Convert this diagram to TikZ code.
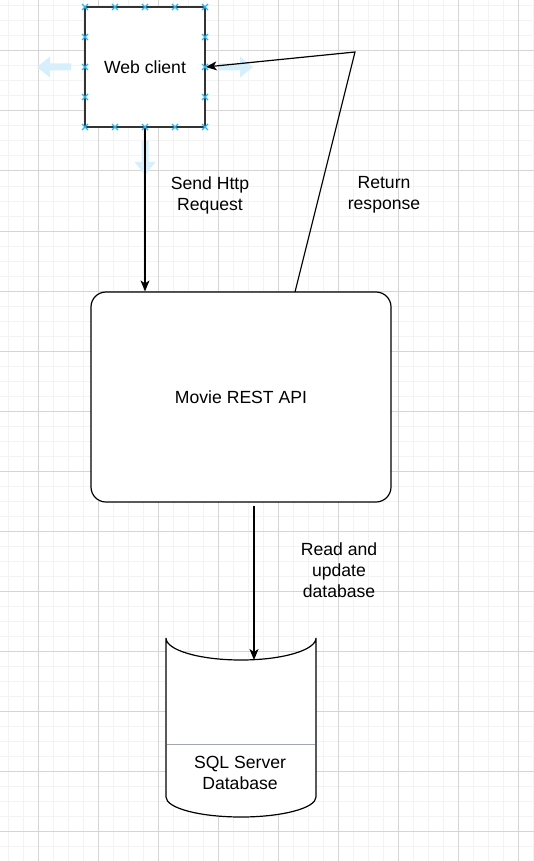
\documentclass[tikz,border=0pt]{standalone}
\usepackage{fontspec}
\setmainfont{Liberation Sans}
\usetikzlibrary{arrows.meta}

\newcommand{\kreuz}[2]{\draw[marke,line width=1.4pt] (#1-3,#2-3) -- (#1+3,#2+3) (#1-3,#2+3) -- (#1+3,#2-3);}

\begin{document}
\begin{tikzpicture}[x=1pt,y=-1pt,font=\fontsize{17.6}{21}\selectfont,
		box/.style={draw,line width=1.2pt,fill=white,align=center},
		pfeil/.style={-{Stealth[length=11pt,width=9pt,inset=3pt]},line width=1.2pt},
		beschr/.style={align=center,inner sep=0pt}]

		\definecolor{gitterfein}{HTML}{F3F3F3}
		\definecolor{gitter}{HTML}{D5D5D5}
		\definecolor{marke}{HTML}{29B6F2}
		\definecolor{hover}{HTML}{D6EFFB}
		\definecolor{trenn}{HTML}{A3A7AF}
		\definecolor{rand}{HTML}{333333}

		\useasboundingbox (0,0) rectangle (534,861);
		\fill[white] (0,0) rectangle (534,861);

		% Gitter
		\foreach \x in {8,23,...,533} \draw[gitterfein,line width=1pt] (\x,0) -- (\x,861);
		\foreach \y in {6,21,...,860} \draw[gitterfein,line width=1pt] (0,\y) -- (534,\y);
		\foreach \x in {38,98,...,518} \draw[gitter,line width=1pt] (\x,0) -- (\x,861);
		\foreach \y in {51,111,...,831} \draw[gitter,line width=1pt] (0,\y) -- (534,\y);

		% Knoten
		\node[box,draw=rand,line width=1.5pt,minimum width=120pt,minimum height=120pt] (client) at (145,67) {Web client};
		\node[box,minimum width=300pt,minimum height=210pt,rounded corners=15pt] (api) at (241,397) {Movie REST API};

		% Datenbank
		\draw[line width=1.2pt,fill=white] (166,638) -- (166,797)
			arc[start angle=180,end angle=360,x radius=75pt,y radius=20pt] -- (316,638)
			arc[start angle=0,end angle=-180,x radius=75pt,y radius=22pt] -- cycle;
		\draw[trenn,line width=1pt] (166.6,744) -- (315.4,744);
		\node[beschr] (db) at (240,773) {SQL Server\\Database};

		% Hover-Pfeile
		\fill[hover] (71,63.5) -- (50,63.5) -- (50,56.5) -- (37,67) -- (50,77.5) -- (50,70.5) -- (71,70.5) -- cycle;
		\fill[hover] (219,63.5) -- (240,63.5) -- (240,56.5) -- (253,67) -- (240,77.5) -- (240,70.5) -- (219,70.5) -- cycle;
		\fill[hover] (141.5,141) -- (141.5,162) -- (134.5,162) -- (145,175) -- (155.5,162) -- (148.5,162) -- (148.5,141) -- cycle;

		% Verbindungen
		\coordinate (ret) at (295,292);
		\coordinate (knick) at (355,52);
		\coordinate (dbein) at (254,660);
		\draw[pfeil] (client.south) -- (client.south |- api.north);
		\draw[pfeil] (ret) -- (knick) -- (client.east);
		\draw[pfeil,shorten <=3pt] (api.south -| dbein) -- (dbein);

		% Beschriftung
		\node[beschr] (send) at (210,195) {Send Http\\Request};
		\node[beschr] (return) at (384,195) {Return\\response};
		\node[beschr] (read) at (339,570) {Read and\\update\\database};

		% Marken
		\foreach \x in {85,115,145,175,205} {\kreuz{\x}{7} \kreuz{\x}{127}}
		\foreach \y in {37,67,97} {\kreuz{85}{\y} \kreuz{205}{\y}}

	\end{tikzpicture}
\end{document}
